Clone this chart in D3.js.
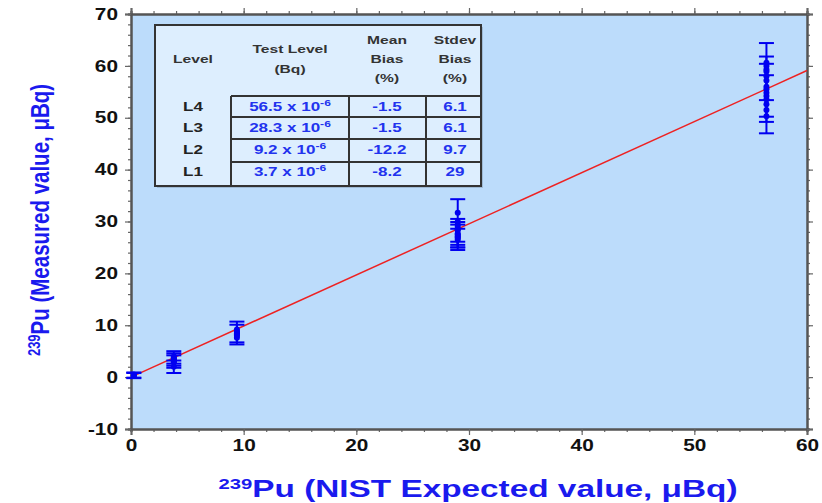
<!DOCTYPE html>
<html><head><meta charset="utf-8">
<script src="https://cdn.jsdelivr.net/npm/d3@7"></script>
<style>body{margin:0;background:#fff}svg{display:block}</style>
</head><body>
<script>
// ---- data ----
const xDomain = [0, 60];
const yDomain = [-10, 70];
const xMajorTicks = [0, 10, 20, 30, 40, 50, 60];
const yMajorTicks = [-10, 0, 10, 20, 30, 40, 50, 60, 70];
const xMinorTicks = d3.range(0, 61, 2);
const yMinorTicks = d3.range(-10, 71, 2);

// measured points: expected (x), measured (y), uncertainty (err, 0 = no bar)
const pointX = [0.25, 0.25, 0.25, 0.25,
  3.8, 3.8, 3.8, 3.8, 3.8, 3.8, 3.8, 3.8,
  9.4, 9.4, 9.4, 9.4, 9.4, 9.4, 9.4,
  29.0, 29.0, 29.0, 29.0, 29.0, 29.0, 29.0, 29.0, 29.0, 29.0, 29.0, 29.0,
  56.4, 56.4, 56.4, 56.4, 56.4, 56.4, 56.4, 56.4, 56.4, 56.4, 56.4, 56.4, 56.4, 56.4];
const pointY = [0.3, 0.4, 0.2, 0.5,
  3.8, 3.4, 3.0, 2.0, 4.0, 3.6, 3.2, 2.8,
  8.7, 8.2, 9.2, 8.8, 8.4, 8.0, 7.6,
  29.4, 28.3, 27.7, 27.2, 26.8, 31.7, 30.0, 29.0, 28.5, 27.5, 27.0, 26.5,
  58.9, 56.0, 54.8, 52.6, 60.6, 60.0, 59.3, 58.0, 57.2, 55.5, 54.2, 53.5, 51.5, 50.3];
const pointErr = [0.5, 0.5, 0, 0,
  1.2, 1.2, 1.2, 1.2, 0, 0, 0, 0,
  2.0, 1.9, 0, 0, 0, 0, 0,
  4.9, 2.2, 2.2, 2.2, 1.8, 0, 0, 0, 0, 0, 0, 0,
  5.5, 5.8, 5.6, 5.6, 0, 0, 0, 0, 0, 0, 0, 0, 0, 0];

const fitSlope = 0.985;
const fitX = [0, 60];

// table
const tableLevels = ["L4", "L3", "L2", "L1"];
const tableTestLevel = ["56.5", "28.3", "9.2", "3.7"];
const tableMeanBias = ["-1.5", "-1.5", "-12.2", "-8.2"];
const tableStdevBias = ["6.1", "6.1", "9.7", "29"];

// ---- drawing ----
const W = 822, H = 503;
const SX = 1.42; // horizontal stretch of the original lettering
const svg = d3.select("body").append("svg").attr("width", W).attr("height", H)
  .style("font-family", "'Liberation Sans', Arial, sans-serif");

const L = 131, R = 807, T = 14, B = 429;
const x = d3.scaleLinear(xDomain, [L, R]);
const y = d3.scaleLinear(yDomain, [B, T]);

svg.append("rect").attr("x", L).attr("y", T).attr("width", R - L).attr("height", B - T)
  .attr("fill", "#bcdcfb");

const fmt = d => String(d);
function styleAxis(g, labels) {
  g.select(".domain").attr("stroke", "#555").attr("stroke-width", 2);
  g.selectAll(".tick line").attr("stroke", "#666").attr("stroke-width", 1.2);
  g.selectAll(".tick text").attr("fill", "#111").attr("font-weight", "bold")
    .attr("font-size", 16).attr("transform", "scale(1.3,1)");
  if (!labels) g.selectAll(".tick text").remove();
}
// minor ticks
svg.append("g").attr("transform", `translate(0,${B})`)
  .call(d3.axisBottom(x).tickValues(xMinorTicks).tickSize(3).tickFormat(""))
  .call(g => styleAxis(g, false));
svg.append("g").attr("transform", `translate(0,${T})`)
  .call(d3.axisTop(x).tickValues(xMinorTicks).tickSize(3).tickFormat(""))
  .call(g => styleAxis(g, false));
svg.append("g").attr("transform", `translate(${L},0)`)
  .call(d3.axisLeft(y).tickValues(yMinorTicks).tickSize(3).tickFormat(""))
  .call(g => styleAxis(g, false));
svg.append("g").attr("transform", `translate(${R},0)`)
  .call(d3.axisRight(y).tickValues(yMinorTicks).tickSize(3).tickFormat(""))
  .call(g => styleAxis(g, false));
// major ticks
svg.append("g").attr("transform", `translate(0,${B})`)
  .call(d3.axisBottom(x).tickValues(xMajorTicks).tickSize(6).tickPadding(5).tickFormat(fmt))
  .call(g => styleAxis(g, true));
svg.append("g").attr("transform", `translate(0,${T})`)
  .call(d3.axisTop(x).tickValues(xMajorTicks).tickSize(6).tickFormat(""))
  .call(g => styleAxis(g, false));
svg.append("g").attr("transform", `translate(${L},0)`)
  .call(d3.axisLeft(y).tickValues(yMajorTicks).tickSize(6).tickPadding(4).tickFormat(fmt))
  .call(g => styleAxis(g, true));
svg.append("g").attr("transform", `translate(${R},0)`)
  .call(d3.axisRight(y).tickValues(yMajorTicks).tickSize(6).tickFormat(""))
  .call(g => styleAxis(g, false));

// fit line
svg.append("line")
  .attr("x1", x(fitX[0])).attr("y1", y(fitX[0] * fitSlope))
  .attr("x2", x(fitX[1])).attr("y2", y(fitX[1] * fitSlope))
  .attr("stroke", "#ee2222").attr("stroke-width", 1.5);

// error bars
const pts = pointX.map((px, i) => ({ x: px, y: pointY[i], e: pointErr[i] }));
const eb = svg.append("g").attr("stroke", "#0000f0").attr("stroke-width", 2);
const cap = 7.5;
pts.filter(p => p.e > 0).forEach(p => {
  const cx = x(p.x);
  eb.append("line").attr("x1", cx).attr("x2", cx).attr("y1", y(p.y - p.e)).attr("y2", y(p.y + p.e));
  eb.append("line").attr("x1", cx - cap).attr("x2", cx + cap).attr("y1", y(p.y - p.e)).attr("y2", y(p.y - p.e));
  eb.append("line").attr("x1", cx - cap).attr("x2", cx + cap).attr("y1", y(p.y + p.e)).attr("y2", y(p.y + p.e));
});
svg.append("g").selectAll("circle").data(pts).join("circle")
  .attr("cx", d => x(d.x)).attr("cy", d => y(d.y)).attr("r", 3).attr("fill", "#0000f0");

// table
const tb = svg.append("g");
const tL = 155, tR = 481, tT = 25, tB = 186;
tb.append("rect").attr("x", tL + 2).attr("y", tT + 2).attr("width", tR - tL).attr("height", tB - tT)
  .attr("fill", "#7f97b0").attr("opacity", 0.5);
tb.append("rect").attr("x", tL).attr("y", tT).attr("width", tR - tL).attr("height", tB - tT)
  .attr("fill", "#ddeefe").attr("stroke", "#333").attr("stroke-width", 2);
const colX = [231, 349, 426];
const rowY = [96, 117, 139, 162];
const lineStyle = s => s.attr("stroke", "#333").attr("stroke-width", 2);
colX.forEach(cx => tb.append("line").attr("x1", cx).attr("x2", cx).attr("y1", rowY[0]).attr("y2", tB).call(lineStyle));
rowY.forEach(ry => tb.append("line").attr("x1", colX[0]).attr("x2", tR).attr("y1", ry).attr("y2", ry).call(lineStyle));

function stext(cx, cy, size, fill) {
  return tb.append("text").attr("transform", `translate(${cx},${cy}) scale(${SX},1)`)
    .attr("text-anchor", "middle").attr("font-size", size).attr("font-weight", "bold").attr("fill", fill);
}
const hdr = (t, cx, cy) => stext(cx, cy, 11, "#333").text(t);
hdr("Level", 193, 63);
hdr("Test Level", 290, 53); hdr("(Bq)", 290, 73);
hdr("Mean", 387, 44); hdr("Bias", 387, 63); hdr("(%)", 387, 82);
hdr("Stdev", 455, 44); hdr("Bias", 455, 63); hdr("(%)", 455, 82);

const rowText = [111, 132, 154, 176];
tableLevels.forEach((lv, i) => {
  stext(193, rowText[i], 12, "#222").text(lv);
  const t = stext(290, rowText[i], 12, "#2233ee");
  t.append("tspan").text(tableTestLevel[i] + " x 10");
  t.append("tspan").attr("dy", -5).attr("font-size", 8.5).text("-6");
  stext(387, rowText[i], 12, "#2233ee").text(tableMeanBias[i]);
  stext(455, rowText[i], 12, "#2233ee").text(tableStdevBias[i]);
});

// axis titles
const xt = svg.append("text").attr("transform", `translate(478,497) scale(1.45,1)`).attr("text-anchor", "middle")
  .attr("font-size", 23).attr("font-weight", "bold").attr("fill", "#1a1aee");
xt.append("tspan").attr("dy", -8).attr("font-size", 14).text("239");
xt.append("tspan").attr("dy", 8).text("Pu (NIST Expected value, μBq)");

const yt = svg.append("text").attr("transform", "translate(49,220) rotate(-90) scale(1,1.28)").attr("text-anchor", "middle")
  .attr("font-size", 20.5).attr("font-weight", "bold").attr("fill", "#1a1aee");
yt.append("tspan").attr("dy", -7).attr("font-size", 13).text("239");
yt.append("tspan").attr("dy", 7).text("Pu (Measured value,  μBq)");
</script>
</body></html>
